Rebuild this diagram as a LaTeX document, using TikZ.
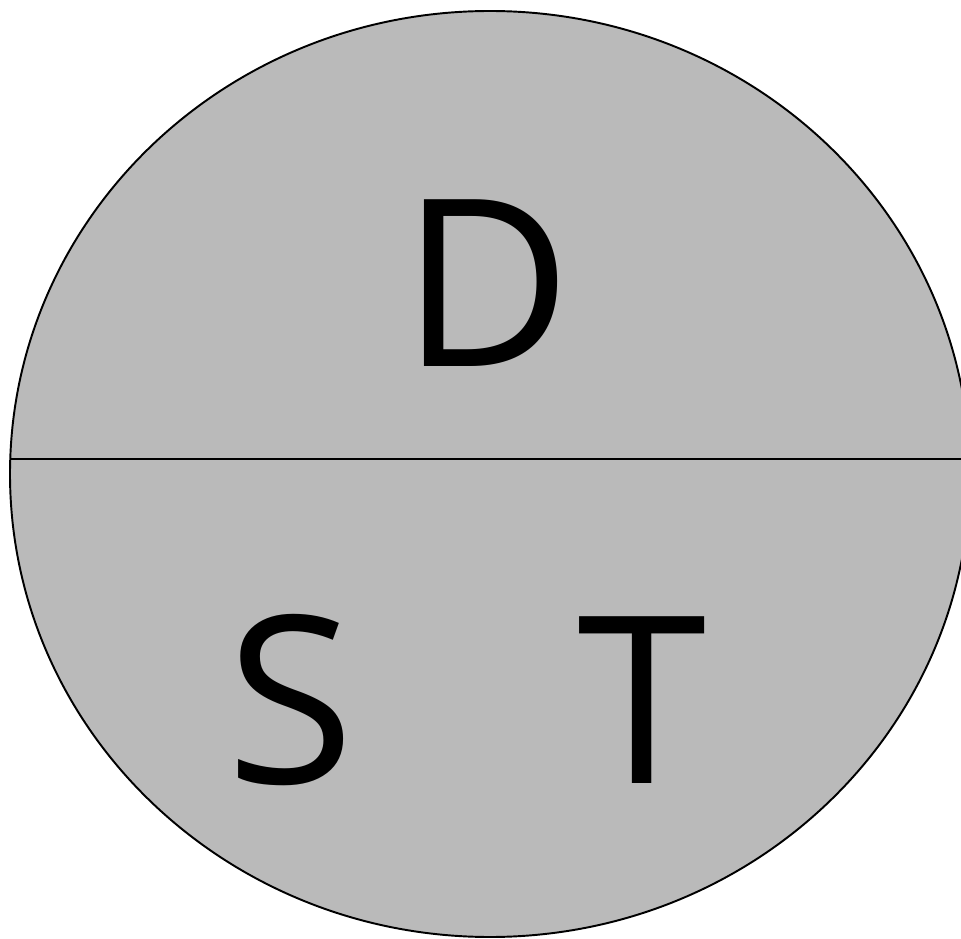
\documentclass[tikz,border=0pt]{standalone}
\usepackage{fontspec}
\setmainfont{Open Sans}
\usepackage{xcolor}
\usepackage{tikz}
\usetikzlibrary{positioning}

\definecolor{discgray}{RGB}{186,186,186}

\begin{document}
\begin{tikzpicture}[
  x=0.02cm, y=-0.02cm,
  letter/.style={inner sep=0pt, font=\fontsize{133}{140}\selectfont},
  disc/.style={fill=discgray, draw=black, line width=1.1pt},
  divider/.style={draw=black, line width=1.2pt}
]
  \clip (0,0) rectangle (961,939);
  \fill[white] (0,0) rectangle (961,939);

  \draw[disc] (490,474) ellipse [x radius=480, y radius=463];
  \coordinate (left) at (10.2,459);
  \coordinate (right) at (975,459);
  \draw[divider] (left) -- (right);

  \node[letter] (d) at (487,283) {D};
  \node[letter] (s) at (291,700) {S};
  \node[letter] (t) at (642,700) {T};
\end{tikzpicture}
\end{document}
